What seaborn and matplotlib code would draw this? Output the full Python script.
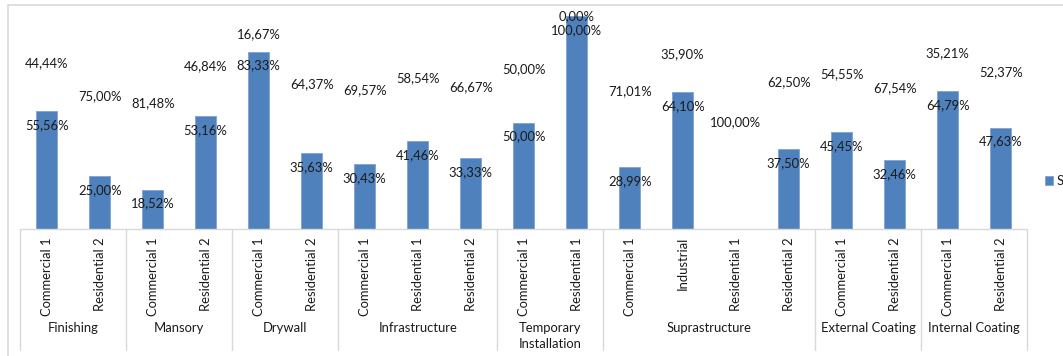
import numpy as np
import pandas as pd
import matplotlib
matplotlib.use("Agg")
import matplotlib.pyplot as plt
import matplotlib.transforms as mtransforms
from matplotlib.patches import Rectangle
import seaborn as sns

# ---- data ----
groups = ["Finishing", "Mansory", "Drywall", "Infrastructure",
          "Temporary\nInstallation", "Suprastructure",
          "External Coating", "Internal Coating"]
subcategories = [
    ["Commercial 1", "Residential 2"],
    ["Commercial 1", "Residential 2"],
    ["Commercial 1", "Residential 2"],
    ["Commercial 1", "Residential 1", "Residential 2"],
    ["Commercial 1", "Residential 1"],
    ["Commercial 1", "Industrial", "Residential 1", "Residential 2"],
    ["Commercial 1", "Residential 2"],
    ["Commercial 1", "Residential 2"],
]
values = [55.56, 25.00, 18.52, 53.16, 83.33, 35.63, 30.43, 41.46, 33.33,
          50.00, 100.00, 28.99, 64.10, 0.00, 37.50, 45.45, 32.46, 64.79, 47.63]
complements = [44.44, 75.00, 81.48, 46.84, 16.67, 64.37, 69.57, 58.54, 66.67,
               50.00, 0.00, 71.01, 35.90, 100.00, 62.50, 54.55, 67.54, 35.21, 52.37]
series_name = "Series1"

# ---- build table ----
keys, sub_labels, grp_of = [], [], []
for g, subs in zip(groups, subcategories):
    for s in subs:
        keys.append(f"{g}|{s}")
        sub_labels.append(s)
        grp_of.append(g)
df = pd.DataFrame({"key": keys, "value": values, "series": series_name})

W, H = 1063, 356
FONT = "Lato"
FS = 9.4
TXT = "#1a1a1a"

sns.set_theme(style="white")
plt.rcParams["font.family"] = [FONT, "DejaVu Sans"]

fig = plt.figure(figsize=(W / 100, H / 100), dpi=100)
# plot area: x from 20.2px to 1027px, y 100% at 16px, 0 at 229px
left_px, right_px, top_px, base_px = 20.2, 1027.2, 16.0, 229.0
ax = fig.add_axes([left_px / W, (H - base_px) / H,
                   (right_px - left_px) / W, (base_px - top_px) / H])

sns.barplot(data=df, x="key", y="value", hue="series", order=keys,
            palette=["#4F81BD"], width=0.4, ax=ax, saturation=1,
            edgecolor="#7FA3D1", linewidth=0.6)

n = len(keys)
ax.set_xlim(-0.5, n - 0.5)
ax.set_ylim(0, 100)
for sp in ax.spines.values():
    sp.set_visible(False)
ax.set_xticks([])
ax.set_yticks([])
ax.set_xlabel("")
ax.set_ylabel("")

# data labels
def fmt(v):
    return f"{v:.2f}".replace(".", ",") + "%"

for i, (v, c) in enumerate(zip(values, complements)):
    if v > 0:
        ax.annotate(fmt(v), (i, v), xytext=(0, -14), textcoords="offset pixels",
                    ha="center", va="center", fontsize=FS, color=TXT,
                    annotation_clip=False)
    ax.annotate(fmt(c), (i, v + c / 2), ha="center", va="center",
                fontsize=FS, color=TXT, annotation_clip=False)

# category axis (multi-level)
trans = mtransforms.blended_transform_factory(ax.transData, fig.transFigure)
line_col = "#d9d9d9"
y_base = (H - base_px) / H
y_bottom = (H - 350) / H
ax.plot([-0.5, n - 0.5], [y_base, y_base], transform=trans, color=line_col,
        lw=1, clip_on=False)
start = 0
bounds = [-0.5]
for subs in subcategories:
    start += len(subs)
    bounds.append(start - 0.5)
for b in bounds:
    ax.plot([b, b], [y_base, y_bottom], transform=trans, color=line_col,
            lw=1, clip_on=False)

for i, s in enumerate(sub_labels):
    ax.text(i, (H - 237) / H, s, transform=trans, rotation=90, ha="center",
            va="top", fontsize=FS, color=TXT)

for gi, g in enumerate(groups):
    cx = (bounds[gi] + bounds[gi + 1]) / 2
    ax.text(cx, (H - 322) / H, g, transform=trans, ha="center", va="top",
            fontsize=FS, color=TXT, linespacing=1.45)

# legend
sns.move_legend(ax, "center left", bbox_to_anchor=(1045 / W, (H - 181) / H),
                bbox_transform=fig.transFigure, frameon=False, title=None,
                fontsize=FS, handlelength=0.6, handleheight=0.6,
                handletextpad=0.3, borderpad=0, borderaxespad=0)
for t in ax.get_legend().get_texts():
    t.set_color(TXT)

# chart border
fig.patches.append(Rectangle((8 / W, -0.1), 1.2, (H - 5) / H + 0.1,
                             transform=fig.transFigure, fill=False,
                             edgecolor=line_col, lw=1.2))

fig.savefig("out.png", dpi=100, facecolor="white")
